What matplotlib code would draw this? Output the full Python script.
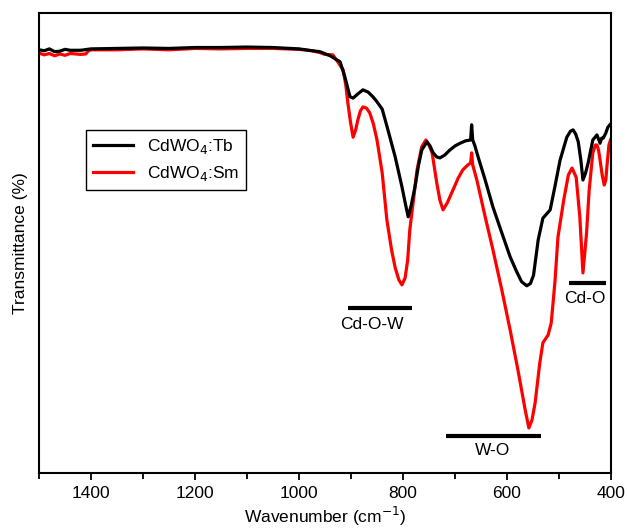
import matplotlib
matplotlib.use('Agg')
import matplotlib.pyplot as plt
from matplotlib.ticker import MultipleLocator

plt.rcParams['font.family'] = ['Liberation Sans', 'DejaVu Sans']

# FTIR spectra (wavenumber in cm^-1, transmittance in arbitrary %)
tb_wn = [1500, 1490, 1480, 1470, 1460, 1450, 1440, 1420, 1400, 1350, 1300, 1250,
         1200, 1150, 1100, 1050, 1000, 975, 960, 940, 921, 912, 902, 896, 887,
         877, 867, 858, 850, 840, 829, 815, 802, 795, 790, 784, 777, 770, 764,
         754, 748, 742, 735, 729, 720, 710, 700, 690, 680, 670, 668, 666, 662,
         655, 642, 627, 610, 594, 582, 572, 562, 555, 549, 540, 531, 517, 508,
         498, 485, 478, 473, 468, 463, 458, 454, 449, 444, 435, 427, 421, 418,
         415, 410, 406, 402]
tb_t = [92.0, 91.8, 92.2, 91.6, 91.7, 92.1, 91.9, 91.9, 92.2, 92.3, 92.4, 92.3,
        92.5, 92.5, 92.6, 92.5, 92.2, 91.8, 91.6, 90.7, 89.4, 86.2, 81.8, 81.5,
        82.4, 83.3, 82.8, 81.8, 80.7, 79.1, 74.6, 68.7, 62.2, 58.3, 55.7, 58.3,
        62.2, 67.0, 70.2, 72.0, 71.1, 69.6, 68.7, 68.5, 69.1, 70.2, 71.1, 71.7,
        72.2, 72.4, 75.7, 72.4, 71.2, 68.5, 63.7, 57.8, 52.2, 47.0, 43.9, 41.6,
        40.7, 41.2, 43.0, 50.7, 55.4, 57.2, 62.2, 68.0, 73.0, 74.3, 74.6, 73.7,
        72.0, 68.0, 63.7, 65.2, 67.4, 72.4, 73.5, 71.7, 72.8, 72.8, 73.9, 75.2,
        75.7]

sm_wn = [1500, 1490, 1480, 1470, 1460, 1450, 1440, 1420, 1410, 1405, 1400, 1350,
         1300, 1250, 1200, 1150, 1100, 1050, 1000, 975, 960, 950, 935, 925, 915,
         910, 906, 901, 896, 891, 887, 882, 877, 870, 864, 857, 850, 840, 831,
         822, 815, 808, 802, 796, 791, 787, 780, 773, 764, 756, 750, 744, 735,
         729, 723, 715, 704, 694, 685, 675, 670, 668, 666, 658, 642, 627, 610,
         594, 579, 565, 558, 552, 546, 537, 531, 521, 515, 508, 502, 491, 482,
         475, 467, 460, 454, 447, 442, 435, 430, 427, 424, 421, 417, 413, 410,
         408, 404, 401]
sm_t = [91.3, 90.9, 91.2, 90.7, 91.1, 90.8, 91.2, 91.0, 91.1, 91.8, 92.0, 92.0,
        92.2, 92.0, 92.3, 92.2, 92.3, 92.3, 92.1, 91.8, 91.4, 91.0, 90.9, 89.3,
        87.6, 84.3, 80.4, 76.3, 73.0, 74.6, 76.7, 78.7, 79.6, 79.3, 78.3, 75.9,
        72.4, 65.2, 55.0, 48.5, 44.6, 42.0, 40.9, 42.4, 46.3, 52.8, 59.3, 65.9,
        70.9, 72.4, 71.3, 69.6, 63.0, 59.3, 57.2, 58.7, 61.5, 64.1, 65.9, 67.0,
        67.4, 69.6, 67.0, 63.7, 55.7, 48.5, 39.8, 31.1, 22.4, 13.7, 9.8, 11.5,
        15.2, 23.9, 28.3, 30.0, 32.6, 41.3, 51.3, 59.3, 64.8, 66.3, 64.3, 55.7,
        43.5, 52.2, 61.5, 69.6, 71.3, 71.3, 70.2, 68.0, 64.8, 62.6, 63.7, 66.5,
        71.3, 72.4]

series_labels = ['CdWO$_4$:Tb', 'CdWO$_4$:Sm']

# band assignments: (label, start, end, bar level, text x, text y)
bands = [('Cd-O-W', 906, 783, 35.9, 860, 32.2),
         ('W-O', 717, 535, 8.0, 627, 5.0),
         ('Cd-O', 481, 410, 41.3, 450, 38.0)]

fig = plt.figure(figsize=(6.27, 5.31), dpi=100)
ax = fig.add_axes([0.0622, 0.1092, 0.9123, 0.8663])

ax.plot(tb_wn, tb_t, color='black', lw=2.3, label=series_labels[0], zorder=3,
        solid_joinstyle='round')
ax.plot(sm_wn, sm_t, color='#ff0000', lw=2.3, label=series_labels[1], zorder=2,
        solid_joinstyle='round')

for name, x0, x1, yb, xt, yt in bands:
    ax.plot([x0, x1], [yb, yb], color='black', lw=3, solid_capstyle='butt')
    ax.text(xt, yt, name, ha='center', va='center', fontsize=12.5)

ax.set_xlim(1500, 400)
ax.set_ylim(0, 100)
ax.xaxis.set_major_locator(MultipleLocator(200))
ax.xaxis.set_minor_locator(MultipleLocator(100))
ax.set_yticks([])
ax.tick_params(axis='x', which='major', direction='out', length=5, width=1.3,
               labelsize=12.5, pad=4)
ax.tick_params(axis='x', which='minor', direction='out', length=4, width=1.3)
for sp in ax.spines.values():
    sp.set_linewidth(1.5)

ax.set_xlabel('Wavenumber (cm$^{-1}$)', fontsize=12.5, labelpad=3)
ax.set_ylabel('Transmittance (%)', fontsize=12.5, labelpad=8)

leg = ax.legend(loc='upper left', bbox_to_anchor=(0.082, 0.746), borderaxespad=0,
                fancybox=False, edgecolor='black', fontsize=12.5,
                handlelength=2.3, framealpha=1)
leg.get_frame().set_linewidth(1.0)

fig.savefig('out.png', dpi=100)
